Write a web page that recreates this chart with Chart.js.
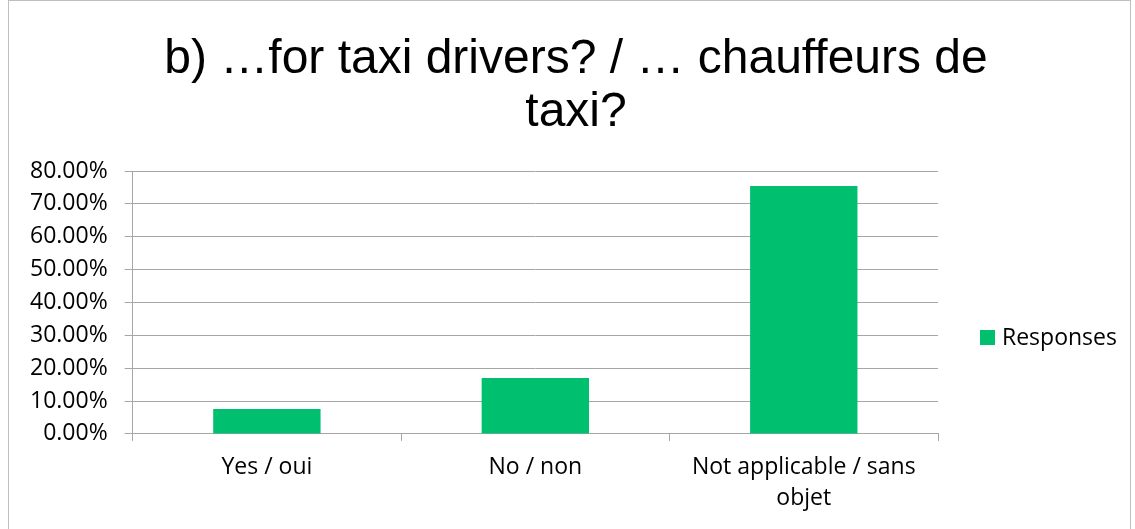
<!DOCTYPE html>
<html>
<head>
<meta charset="utf-8">
<script src="https://cdn.jsdelivr.net/npm/chart.js@4.4.0/dist/chart.umd.min.js"></script>
<style>
  body { margin: 0; background: #fff; }
  #wrap { position: absolute; left: 0; top: 0; width: 1135px; height: 529px; }
  #frame { position: absolute; left: 8px; top: 0px; width: 1121px; height: 540px; border: 1px solid #bfbfbf; }
</style>
</head>
<body>
<div id="frame"></div>
<div id="wrap"><canvas id="myChart1" width="1135" height="529"></canvas></div>
<script>
let categories = [['Yes / oui'], ['No / non'], ['Not applicable / sans', 'objet']];
let responses = [7.6, 17.0, 75.4];
let seriesName = 'Responses';
let titleLines = ['b) \u2026for taxi drivers? / \u2026 chauffeurs de', 'taxi?'];
let barColor = '#00bf6f';
let labelFont = '"Open Sans", Lato, sans-serif';

// title and legend drawn by hand so they sit where the original has them
const sideText = {
    id: 'sideText',
    afterDraw(chart) {
        const c = chart.ctx;
        const area = chart.chartArea;
        const ds = chart.data.datasets[0];
        c.save();
        c.fillStyle = '#000';
        c.font = '48px "Liberation Sans", Arial';
        c.textAlign = 'center';
        c.textBaseline = 'alphabetic';
        c.fillText(titleLines[0], 576, 73);
        c.fillText(titleLines[1], 576, 126);

        const x = area.right + 42;
        const y = 337;
        c.textAlign = 'left';
        c.fillStyle = ds.backgroundColor;
        c.fillRect(x, y - 7, 15, 15);
        c.fillStyle = '#000';
        c.font = '23px ' + labelFont;
        c.textBaseline = 'middle';
        c.fillText(ds.label, x + 22, y + 1);
        c.restore();
    }
};

let ctx = document.getElementById('myChart1').getContext('2d');
let myChart1 = new Chart(ctx, {
    type: 'bar',
    data: {
        labels: categories,
        datasets: [{
            label: seriesName,
            data: responses,
            backgroundColor: barColor,
            barPercentage: 0.8,
            categoryPercentage: 0.5
        }]
    },
    options: {
        responsive: false,
        animation: false,
        layout: {
            padding: { left: 13, right: 197, top: 171, bottom: 4 }
        },
        plugins: {
            title: { display: false },
            legend: { display: false },
            tooltip: { enabled: false }
        },
        scales: {
            x: {
                grid: {
                    offset: true,
                    drawOnChartArea: false,
                    color: '#a6a6a6',
                    tickLength: 7
                },
                border: { color: '#a6a6a6' },
                ticks: {
                    color: '#000',
                    maxRotation: 0,
                    padding: 11,
                    font: { family: labelFont, size: 23, lineHeight: 1.35 }
                }
            },
            y: {
                min: 0,
                max: 80,
                ticks: {
                    stepSize: 10,
                    color: '#000',
                    padding: 17,
                    font: { family: labelFont, size: 23 },
                    callback: (value) => value.toFixed(2) + '%'
                },
                grid: { color: '#a6a6a6', tickLength: 8 },
                border: { color: '#a6a6a6' }
            }
        }
    },
    plugins: [sideText]
});
</script>
</body>
</html>
